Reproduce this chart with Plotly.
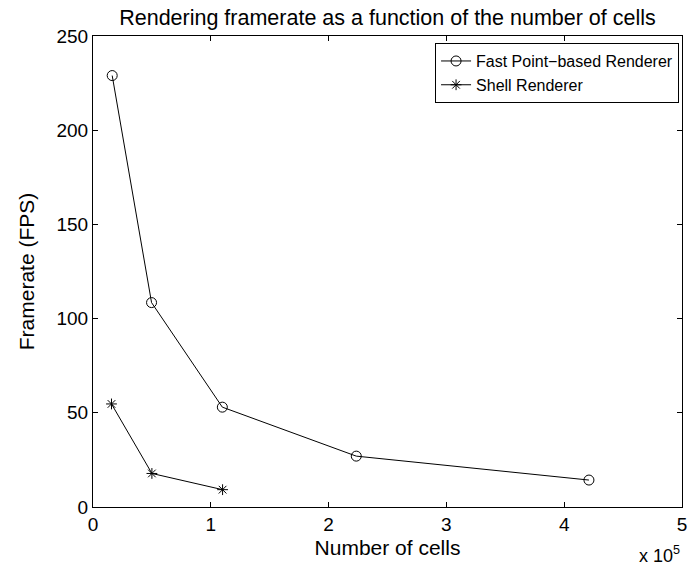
import plotly.graph_objects as go

# Number of cells per dataset and measured framerates
fast_cells = [16300, 49700, 109800, 223500, 421000]
fast_fps = [229, 108.5, 53, 27, 14.3]

shell_cells = [15700, 50000, 110000]
shell_fps = [54.7, 17.8, 9.2]

x_ticks = [0, 100000, 200000, 300000, 400000, 500000]
x_tick_labels = ["0", "1", "2", "3", "4", "5"]
y_ticks = [0, 50, 100, 150, 200, 250]

font_family = "Liberation Sans, Arial, sans-serif"

fig = go.Figure()
fig.add_trace(go.Scatter(
    x=fast_cells, y=fast_fps, mode="lines+markers",
    name="Fast Point\u2212based Renderer",
    line=dict(color="black", width=1),
    marker=dict(symbol="circle-open", size=10, color="black", line=dict(width=1)),
))
fig.add_trace(go.Scatter(
    x=shell_cells, y=shell_fps, mode="lines+markers",
    name="Shell Renderer",
    line=dict(color="black", width=1),
    marker=dict(symbol="asterisk-open", size=9, color="black", line=dict(width=1)),
))

axis_common = dict(
    showgrid=False, zeroline=False, showline=True, linecolor="black", linewidth=1,
    mirror="ticks", ticks="inside", ticklen=5, tickcolor="black", tickwidth=1,
    tickfont=dict(family=font_family, size=19, color="black"),
)

fig.update_layout(
    width=696, height=567,
    margin=dict(l=93, r=9, t=36, b=60),
    paper_bgcolor="white", plot_bgcolor="white",
    font=dict(family=font_family, color="black"),
    title=dict(text="Rendering framerate as a function of the number of cells",
               x=0.5, xref="paper", xanchor="center", y=0.97, yanchor="middle",
               font=dict(size=21.5, family=font_family, color="black")),
    xaxis=dict(range=[0, 500000], tickvals=x_ticks, ticktext=x_tick_labels,
               title=dict(text="Number of cells", font=dict(size=21), standoff=6),
               **axis_common),
    yaxis=dict(range=[0, 250], tickvals=y_ticks,
               title=dict(text="Framerate (FPS)", font=dict(size=21), standoff=16),
               **axis_common),
    legend=dict(x=0.995, y=0.985, xanchor="right", yanchor="top",
                bgcolor="white", bordercolor="black", borderwidth=1,
                font=dict(family=font_family, size=16, color="black"),
                tracegroupgap=0, itemwidth=30),
    showlegend=True,
    annotations=[dict(text="x 10<sup>5</sup>", xref="paper", yref="paper",
                      x=1.0, y=-0.1, xanchor="right", yanchor="middle", showarrow=False,
                      font=dict(family=font_family, size=18, color="black"))],
)

fig.write_html("out.html")
